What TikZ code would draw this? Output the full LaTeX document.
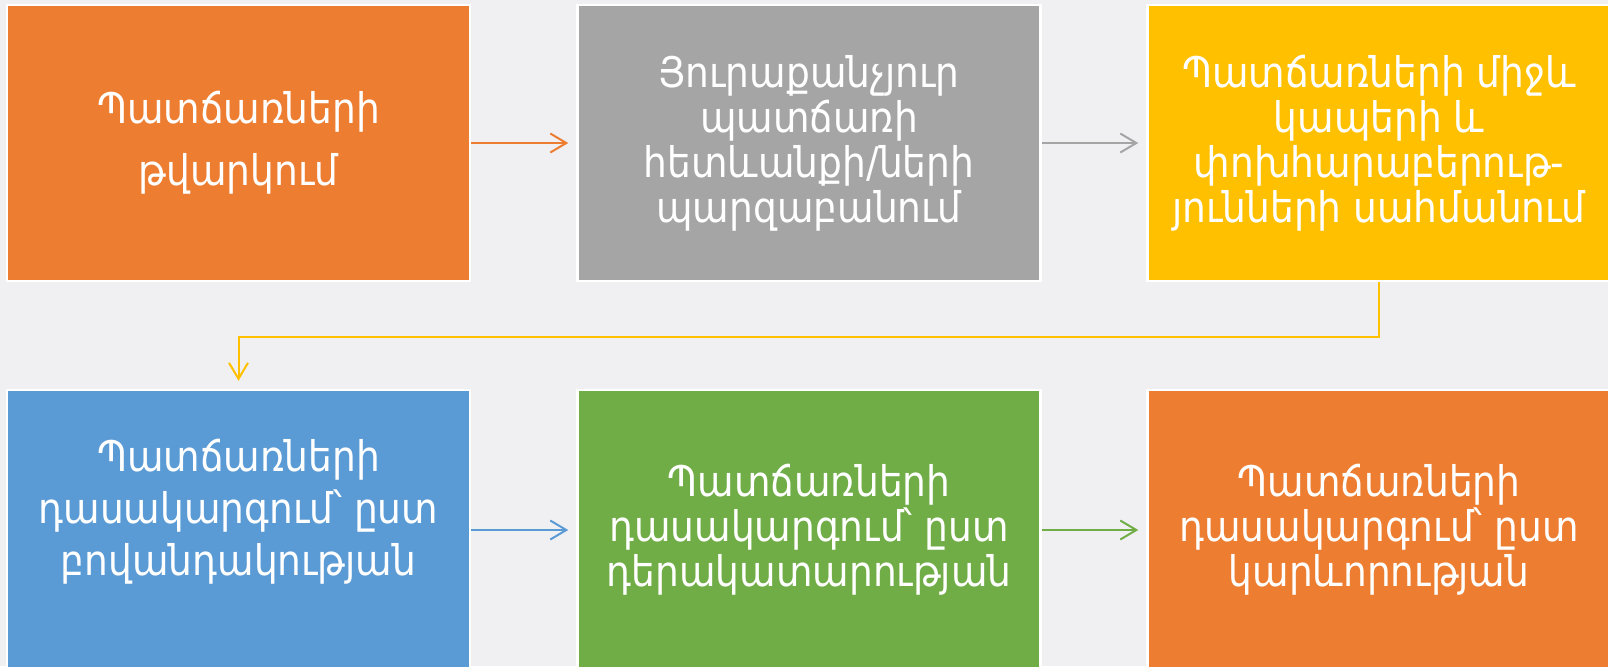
\documentclass[tikz,border=0pt]{standalone}
\usepackage{fontspec}
\setmainfont[FakeStretch=0.89]{DejaVu Sans}
\usetikzlibrary{positioning,arrows.meta}

\definecolor{bgcol}{RGB}{240,239,242}
\definecolor{orcol}{RGB}{237,125,49}
\definecolor{grcol}{RGB}{165,165,165}
\definecolor{yecol}{RGB}{255,192,0}
\definecolor{blcol}{RGB}{91,155,213}
\definecolor{gncol}{RGB}{112,173,71}

\begin{document}
\begin{tikzpicture}[
  font=\fontsize{12}{12.8}\selectfont,
  stage/.style={rectangle, draw=white, line width=0.025cm, text=white,
                minimum width=4.63cm, minimum height=2.76cm, inner sep=2pt, align=center},
  flow/.style={-{Straight Barb[length=1.6mm,width=1.9mm]}, line width=0.02cm, shorten >=0.08cm}
]
\useasboundingbox (0,0) rectangle (16.08,-6.66);
\fill[bgcol] (0,0) rectangle (16.08,-6.66);

\node[stage, fill=orcol] (list)  at ( 2.385,-1.43){Պատճառների\\[0.17cm]թվարկում};
\node[stage, fill=grcol] (clar)  at ( 8.09,-1.43) {Յուրաքանչյուր\\պատճառի\\հետևանքի/ների\\պարզաբանում};
\node[stage, fill=yecol] (link)  at (13.79,-1.43) {Պատճառների միջև\\կապերի և\\փոխհարաբերութ-\\յունների սահմանում};
\node[stage, fill=blcol, minimum height=2.8cm] (cont)  at ( 2.385,-5.30){Պատճառների\\[0.07cm]դասակարգում՝ ըստ\\[0.07cm]բովանդակության\\[0pt]};
\node[stage, fill=gncol, minimum height=2.8cm] (role)  at ( 8.09,-5.30) {Պատճառների\\դասակարգում՝ ըստ\\դերակատարության};
\node[stage, fill=orcol, minimum height=2.8cm] (impt)  at (13.79,-5.30) {Պատճառների\\դասակարգում՝ ըստ\\կարևորության};

\draw[flow, orcol] (list.east) -- (clar.west);
\draw[flow, grcol] (clar.east) -- (link.west);
\draw[flow, yecol] (link.south) -- ++(0,-0.55) -| (cont.north);
\draw[flow, blcol] (cont.east) -- (role.west);
\draw[flow, gncol] (role.east) -- (impt.west);
\end{tikzpicture}
\end{document}
